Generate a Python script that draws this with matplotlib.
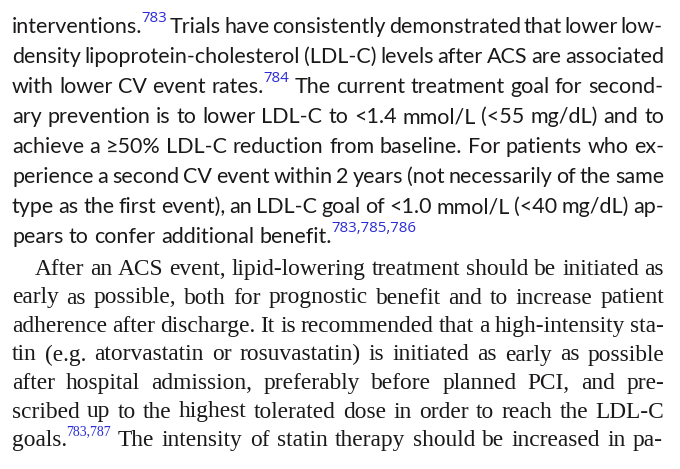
import matplotlib
matplotlib.use("Agg")
import matplotlib.pyplot as plt

# lines of the page, "^" marks the start of a blue superscript reference
para1 = [
    "interventions.^783 Trials have consistently demonstrated that lower low-",
    "density lipoprotein-cholesterol (LDL-C) levels after ACS are associated",
    "with lower CV event rates.^784 The current treatment goal for second-",
    "ary prevention is to lower LDL-C to <1.4 mmol/L (<55 mg/dL) and to",
    "achieve a \u226550% LDL-C reduction from baseline. For patients who ex-",
    "perience a second CV event within 2 years (not necessarily of the same",
    "type as the first event), an LDL-C goal of <1.0 mmol/L (<40 mg/dL) ap-",
    "pears to confer additional benefit.^783,785,786",
]
para2 = [
    "After an ACS event, lipid-lowering treatment should be initiated as",
    "early as possible, both for prognostic benefit and to increase patient",
    "adherence after discharge. It is recommended that a high-intensity sta-",
    "tin (e.g. atorvastatin or rosuvastatin) is initiated as early as possible",
    "after hospital admission, preferably before planned PCI, and pre-",
    "scribed up to the highest tolerated dose in order to reach the LDL-C",
    "goals.^783,787 The intensity of statin therapy should be increased in pa-",
]

INK = "#1a1819"
BLUE = "#2b2bd6"
LEFT, RIGHT = 12, 664

sans = dict(family=["Lato", "DejaVu Sans"], size=15.5)
sans_sup = dict(family=["Open Sans", "DejaVu Sans"], size=10.8)
serif = dict(family=["Liberation Serif", "DejaVu Serif"], size=16.8)
serif_sup = dict(family=["Liberation Serif", "DejaVu Serif"], size=10.0)

fig = plt.figure(figsize=(6.8, 4.69), dpi=100)
ax = fig.add_axes([0, 0, 1, 1])
ax.set_xlim(0, 680)
ax.set_ylim(469, 0)
ax.axis("off")
fig.canvas.draw()
rend = fig.canvas.get_renderer()


def width(s, font):
    t = ax.text(0, 0, s, **font)
    w = t.get_window_extent(rend).width
    t.remove()
    return w


def draw_line(line, y, font, sup_font, sup_rise, x0, justify):
    words = []
    for w in line.split(" "):
        main, _, sup = w.partition("^")
        wm = width(main, font)
        ws = width(sup, sup_font) if sup else 0
        words.append((main, sup, wm, ws))
    total = sum(a[2] + a[3] for a in words)
    if justify and len(words) > 1:
        gap = (RIGHT - x0 - total) / (len(words) - 1)
    else:
        gap = width("a a", font) - 2 * width("a", font)
    x = x0
    for main, sup, wm, ws in words:
        ax.text(x, y, main, color=INK, va="baseline", **font)
        x += wm
        if sup:
            ax.text(x - 1, y - sup_rise, sup, color=BLUE, va="baseline", **sup_font)
            x += ws - 1
        x += gap


for i, line in enumerate(para1):
    draw_line(line, 33 + 30 * i, sans, sans_sup, 11, LEFT, i < len(para1) - 1)

for i, line in enumerate(para2):
    draw_line(line, 275 + 28.5 * i, serif, serif_sup, 11,
              35 if i == 0 else LEFT, True)

fig.savefig("out.png", dpi=100)
